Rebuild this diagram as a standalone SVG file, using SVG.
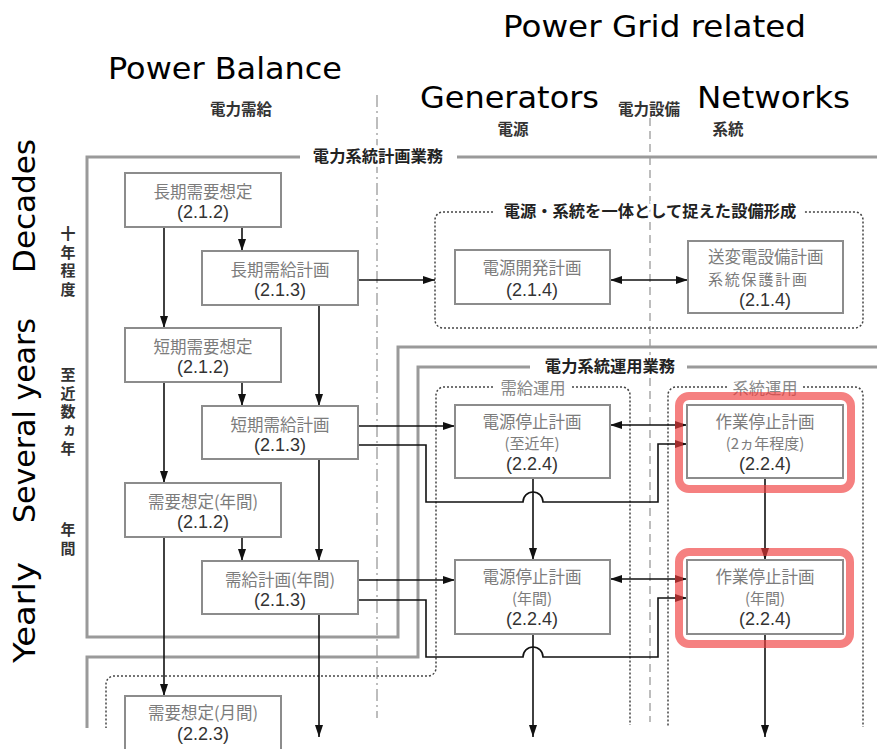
<svg xmlns="http://www.w3.org/2000/svg" width="877" height="749" viewBox="0 0 877 749">
<style>
.box{fill:#fff;stroke:#8c8c8c;stroke-width:2}
.jt{font-family:"Noto Sans CJK JP","Noto Sans CJK SC",sans-serif;font-size:16.5px;fill:#7c7c7c;text-anchor:middle}
.l2{font-size:15px}
.num{font-family:"Liberation Sans",Arial,sans-serif;font-size:18px;fill:#333}
.hdr{font-family:"Noto Sans CJK JP","Noto Sans CJK SC",sans-serif;font-weight:bold;font-size:15.5px;fill:#333;text-anchor:middle;dominant-baseline:central}
.vt{font-family:"Noto Sans CJK JP","Noto Sans CJK SC",sans-serif;font-weight:bold;font-size:15px;fill:#333;writing-mode:vertical-rl;text-anchor:start}
.ttl{font-family:"Noto Sans CJK JP","Noto Sans CJK SC",sans-serif;font-weight:bold;font-size:16.3px;fill:#222;text-anchor:middle;dominant-baseline:central;paint-order:stroke;stroke:#fff;stroke-width:6}
.sub{font-family:"Noto Sans CJK JP","Noto Sans CJK SC",sans-serif;font-size:16.3px;fill:#888;text-anchor:middle;dominant-baseline:central}
.en{font-family:"DejaVu Sans","Open Sans",sans-serif;font-size:31px;fill:#000}
.grp{fill:none;stroke:#9a9a9a;stroke-width:3}
.dot{fill:none;stroke:#444;stroke-width:1.5;stroke-dasharray:2 2}
.guide{fill:none;stroke:#bdbdbd;stroke-width:2}
.conn{fill:none;stroke:#111;stroke-width:1.6}
.hl{fill:none;stroke:#f03c3c;stroke-opacity:.65;stroke-width:8}
</style>
<defs>
<marker id="ah" markerUnits="userSpaceOnUse" markerWidth="12" markerHeight="8" refX="12" refY="4" orient="auto-start-reverse">
<path d="M0,0 L12,4 L0,8 z" fill="#111"/>
</marker>
</defs>
<rect width="877" height="749" fill="#fff"/>

<!-- English labels -->
<g id="english-labels">
<text class="en" x="503" y="37" textLength="303" lengthAdjust="spacingAndGlyphs">Power Grid related</text>
<text class="en" x="108" y="79" textLength="234" lengthAdjust="spacingAndGlyphs">Power Balance</text>
<text class="en" x="420" y="108" textLength="179" lengthAdjust="spacingAndGlyphs">Generators</text>
<text class="en" x="697" y="108" textLength="153" lengthAdjust="spacingAndGlyphs">Networks</text>
<text class="en" transform="translate(35,273) rotate(-90)" textLength="134" lengthAdjust="spacingAndGlyphs">Decades</text>
<text class="en" transform="translate(35,523) rotate(-90)" textLength="205" lengthAdjust="spacingAndGlyphs">Several years</text>
<text class="en" transform="translate(35,663) rotate(-90)" textLength="101" lengthAdjust="spacingAndGlyphs">Yearly</text>
</g>

<!-- guide lines -->
<g id="guides">
<path class="guide" d="M377 95 V718" stroke-dasharray="12 4 2 4"/>
<path class="guide" d="M650 118 V722" stroke-dasharray="8 5"/>
</g>

<!-- header labels -->
<g id="headers">
<text class="hdr" x="241" y="108">電力需給</text>
<text class="hdr" x="513" y="128">電源</text>
<text class="hdr" x="649" y="108">電力設備</text>
<text class="hdr" x="728" y="128">系統</text>
<text class="vt" x="68" y="226" letter-spacing="3.5">十年程度</text>
<text class="vt" x="68" y="367" letter-spacing="3.5">至近数ヵ年</text>
<text class="vt" x="68" y="522" letter-spacing="4">年間</text>
</g>

<!-- group frames -->
<g id="planning-frame">
<path class="grp" d="M300 157 H87 V637 H398 V347 H877 M457 157 H877"/>
<text class="ttl" x="378" y="155">電力系統計画業務</text>
</g>
<g id="operation-frame">
<path class="grp" d="M530 367 H418 V657 H87 V728 M687 367 H877"/>
<text class="ttl" x="610" y="365">電力系統運用業務</text>
</g>
<g id="facility-frame">
<path class="dot" d="M493 212 H443 A8 8 0 0 0 435 220 V320 A8 8 0 0 0 443 328 H855 A8 8 0 0 0 863 320 V220 A8 8 0 0 0 855 212 H803"/>
<text class="ttl" x="650" y="210">電源・系統を一体として捉えた設備形成</text>
</g>
<g id="supply-ops-frame">
<path class="dot" d="M493 387 H444 A8 8 0 0 0 436 395 V668 A8 8 0 0 1 428 676 H114 A8 8 0 0 0 106 684 V728 M572 387 H622 A8 8 0 0 1 630 395 V725"/>
<text class="sub" x="533" y="387">需給運用</text>
</g>
<g id="grid-ops-frame">
<path class="dot" d="M727 387 H676 A8 8 0 0 0 668 395 V727 M803 387 H855 A8 8 0 0 1 863 395 V727"/>
<text class="sub" x="765" y="387">系統運用</text>
</g>

<!-- connectors -->
<g id="connectors" class="conn">
<path d="M164 227 V328" marker-end="url(#ah)"/>
<path d="M164 382 V483" marker-end="url(#ah)"/>
<path d="M164 537 V696" marker-end="url(#ah)"/>
<path d="M242 227 V251" marker-end="url(#ah)"/>
<path d="M242 382 V406" marker-end="url(#ah)"/>
<path d="M242 537 V561" marker-end="url(#ah)"/>
<path d="M319 305 V406" marker-end="url(#ah)"/>
<path d="M319 459 V561" marker-end="url(#ah)"/>
<path d="M319 614 V737" marker-end="url(#ah)"/>
<path d="M358 280 H435" marker-end="url(#ah)"/>
<path d="M610 280 H688" marker-start="url(#ah)" marker-end="url(#ah)"/>
<path d="M358 426 H455" marker-end="url(#ah)"/>
<path d="M358 445 H426 V502 H523 A10 10 0 0 1 543 502 H658 V444 H687" marker-end="url(#ah)"/>
<path d="M610 425 H687" marker-start="url(#ah)" marker-end="url(#ah)"/>
<path d="M533 478 V560" marker-end="url(#ah)"/>
<path d="M765 478 V560" marker-end="url(#ah)"/>
<path d="M358 580 H455" marker-end="url(#ah)"/>
<path d="M358 600 H426 V657 H523 A10 10 0 0 1 543 657 H658 V598 H687" marker-end="url(#ah)"/>
<path d="M610 579 H687" marker-start="url(#ah)" marker-end="url(#ah)"/>
<path d="M533 634 V737" marker-end="url(#ah)"/>
<path d="M765 634 V737" marker-end="url(#ah)"/>
</g>

<!-- nodes -->
<g id="n-long-demand">
<rect class="box" x="125" y="173" width="156" height="54"/>
<text class="jt" x="203" y="198">長期需要想定<tspan class="num" x="203" y="218">(2.1.2)</tspan></text>
</g>
<g id="n-long-supply">
<rect class="box" x="202" y="251" width="156" height="54"/>
<text class="jt" x="280" y="276">長期需給計画<tspan class="num" x="280" y="296">(2.1.3)</tspan></text>
</g>
<g id="n-short-demand">
<rect class="box" x="125" y="328" width="156" height="54"/>
<text class="jt" x="203" y="353">短期需要想定<tspan class="num" x="203" y="373">(2.1.2)</tspan></text>
</g>
<g id="n-short-supply">
<rect class="box" x="202" y="406" width="156" height="53"/>
<text class="jt" x="280" y="431">短期需給計画<tspan class="num" x="280" y="451">(2.1.3)</tspan></text>
</g>
<g id="n-annual-demand">
<rect class="box" x="125" y="483" width="156" height="54"/>
<text class="jt" x="203" y="508">需要想定(年間)<tspan class="num" x="203" y="528">(2.1.2)</tspan></text>
</g>
<g id="n-annual-supply">
<rect class="box" x="202" y="561" width="156" height="53"/>
<text class="jt" x="280" y="586">需給計画(年間)<tspan class="num" x="280" y="606">(2.1.3)</tspan></text>
</g>
<g id="n-monthly-demand">
<rect class="box" x="125" y="696" width="156" height="70"/>
<text class="jt" x="203" y="719">需要想定(月間)<tspan class="num" x="203" y="740">(2.2.3)</tspan></text>
</g>
<g id="n-gen-dev">
<rect class="box" x="455" y="250" width="155" height="54"/>
<text class="jt" x="532" y="274">電源開発計画<tspan class="num" x="532" y="296">(2.1.4)</tspan></text>
</g>
<g id="n-trans-plan">
<rect class="box" x="688" y="241" width="155" height="72"/>
<text class="jt" x="765" y="264"><tspan x="708" y="263" text-anchor="start">送変電設備計画</tspan><tspan class="l2" x="708" y="285" text-anchor="start" textLength="99">系統保護計画</tspan><tspan class="num" x="765" y="306">(2.1.4)</tspan></text>
</g>
<g id="n-gen-outage-near">
<rect class="box" x="455" y="405" width="155" height="73"/>
<text class="jt" x="532" y="428">電源停止計画<tspan class="l2" x="532" y="449">(至近年)</tspan><tspan class="num" x="532" y="470">(2.2.4)</tspan></text>
</g>
<g id="n-work-outage-2y">
<rect class="box" x="687" y="405" width="156" height="73"/>
<text class="jt" x="765" y="428">作業停止計画<tspan class="l2" x="765" y="449">(2ヵ年程度)</tspan><tspan class="num" x="765" y="470">(2.2.4)</tspan></text>
</g>
<g id="n-gen-outage-annual">
<rect class="box" x="455" y="560" width="155" height="74"/>
<text class="jt" x="532" y="583">電源停止計画<tspan class="l2" x="532" y="604">(年間)</tspan><tspan class="num" x="532" y="625">(2.2.4)</tspan></text>
</g>
<g id="n-work-outage-annual">
<rect class="box" x="687" y="560" width="156" height="74"/>
<text class="jt" x="765" y="583">作業停止計画<tspan class="l2" x="765" y="604">(年間)</tspan><tspan class="num" x="765" y="625">(2.2.4)</tspan></text>
</g>

<!-- highlights -->
<g id="highlights">
<rect class="hl" x="679" y="396" width="172" height="93" rx="10"/>
<rect class="hl" x="679" y="552" width="171" height="92" rx="10"/>
</g>
</svg>
